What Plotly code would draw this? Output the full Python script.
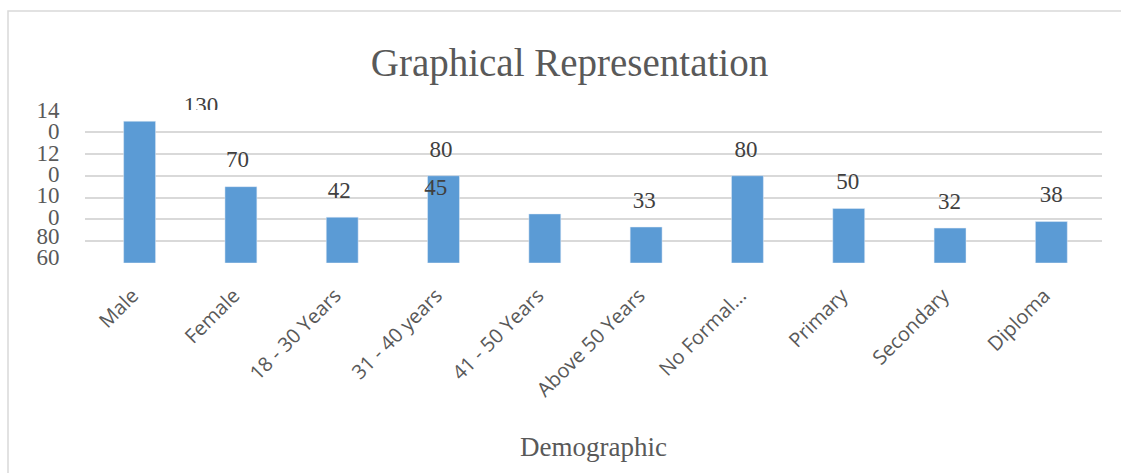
import plotly.graph_objects as go

# ---- data ----
categories = ["Male", "Female", "18 - 30 Years", "31 - 40 years", "41 - 50 Years",
              "Above 50 Years", "No Formal...", "Primary", "Secondary", "Diploma"]
values = [130, 70, 42, 80, 45, 33, 80, 50, 32, 38]
label_text = [str(v) for v in values]

grid_vals = [0, 20, 40, 60, 80, 100, 120]
# squeezed (wrapped) y tick labels as they appear in the original
ytick_text = ["14", "0", "12", "0", "10", "0", "80", "60"]
ytick_pos = [140, 120.8, 101, 81.4, 62.2, 42, 25.1, 5.9]
cut_label = "40"          # last squeezed label, half hidden below the axis
cut_label_pos = -19.2

title_text = "Graphical Representation"
x_title = "Demographic"

# manual data-label moves seen in the original (category units, value units)
label_nudge = {0: (0.64, -10.0), 4: (-1.05, 0.0)}

BAR = "#5b9bd5"
GRID = "#d9d9d9"
TXT = "#595959"
SERIF = "Liberation Serif"

lab_x = [i + label_nudge.get(i, (0, 0))[0] for i in range(len(values))]
lab_y = [v + label_nudge.get(i, (0, 0))[1] for i, v in enumerate(values)]

fig = go.Figure()
fig.add_trace(go.Bar(x=categories, y=values, marker_color=BAR, hoverinfo="skip",
                     showlegend=False))
fig.add_trace(go.Scatter(x=lab_x, y=lab_y, xaxis="x2", mode="markers+text", text=label_text,
                         textposition="top center", cliponaxis=False,
                         marker=dict(size=20, color="rgba(0,0,0,0)"),
                         textfont=dict(family=SERIF, size=23, color="#404040"),
                         hoverinfo="skip", showlegend=False))
# last squeezed y label (drawn as text, mostly hidden like in the original)
fig.add_trace(go.Scatter(x=[-0.85], y=[cut_label_pos], xaxis="x2", mode="text",
                         text=[cut_label], textposition="middle center", cliponaxis=False,
                         textfont=dict(family=SERIF, size=23, color=TXT),
                         hoverinfo="skip", showlegend=False))
# invisible trace to activate the tick-label axis
fig.add_trace(go.Scatter(x=[categories[0]], y=[0], yaxis="y2", mode="markers",
                         marker=dict(color="rgba(0,0,0,0)"), hoverinfo="skip",
                         showlegend=False))

top_px, plot_bottom = 110, 263
L, R = 85, 1102
W, H = R - L, plot_bottom - top_px

fig.update_layout(
    width=1121, height=473,
    margin=dict(l=L, r=1121 - R, t=top_px, b=473 - plot_bottom, autoexpand=False),
    paper_bgcolor="white", plot_bgcolor="white",
    bargap=0.685,
    title=dict(text=title_text, x=0.508, xanchor="center", y=1 - 62 / 473, yanchor="middle",
               font=dict(family=SERIF, size=39, color=TXT)),
    xaxis=dict(type="category", tickangle=-45, ticks="outside", ticklen=12, automargin=False,
               ticklabelshift=-7,
               tickcolor="rgba(0,0,0,0)", showline=False, showgrid=False,
               tickfont=dict(family="Open Sans", size=20, color=TXT),
               title=dict(text=x_title, standoff=35,
                          font=dict(family=SERIF, size=27, color=TXT))),
    xaxis2=dict(overlaying="x", range=[-0.5, len(categories) - 0.5], visible=False),
    yaxis=dict(range=[0, 140.3], tickvals=grid_vals, showticklabels=False, automargin=False,
               showgrid=True, gridcolor=GRID, gridwidth=1.5, zeroline=False, showline=False),
    yaxis2=dict(overlaying="y", side="left", range=[0, 140.3], automargin=False,
                tickvals=ytick_pos, ticktext=ytick_text, ticks="outside", ticklen=20,
                tickcolor="rgba(0,0,0,0)", showgrid=False, zeroline=False, showline=False,
                tickfont=dict(family=SERIF, size=23, color=TXT)),
    shapes=[
        dict(type="rect", xref="paper", yref="paper", x0=(8 - L) / W, x1=1.06,
             y0=-1.5, y1=1 + (top_px - 11) / H,
             line=dict(color=GRID, width=1.5), fillcolor="rgba(0,0,0,0)", layer="below"),
        # hide the bottom half of the last squeezed tick label, as in the original
        dict(type="rect", xref="paper", yref="paper", x0=(20 - L) / W, x1=(78 - L) / W,
             y0=-0.3, y1=-(280 - plot_bottom) / H,
             line=dict(width=0), fillcolor="white", layer="above"),
        # the "130" label is cut off by the plot area in the original
        dict(type="rect", xref="paper", yref="paper", x0=(170 - L) / W, x1=(232 - L) / W,
             y0=1 - 9 / H, y1=1,
             line=dict(width=0), fillcolor="white", layer="above"),
    ],
)

fig.write_html("out.html")
